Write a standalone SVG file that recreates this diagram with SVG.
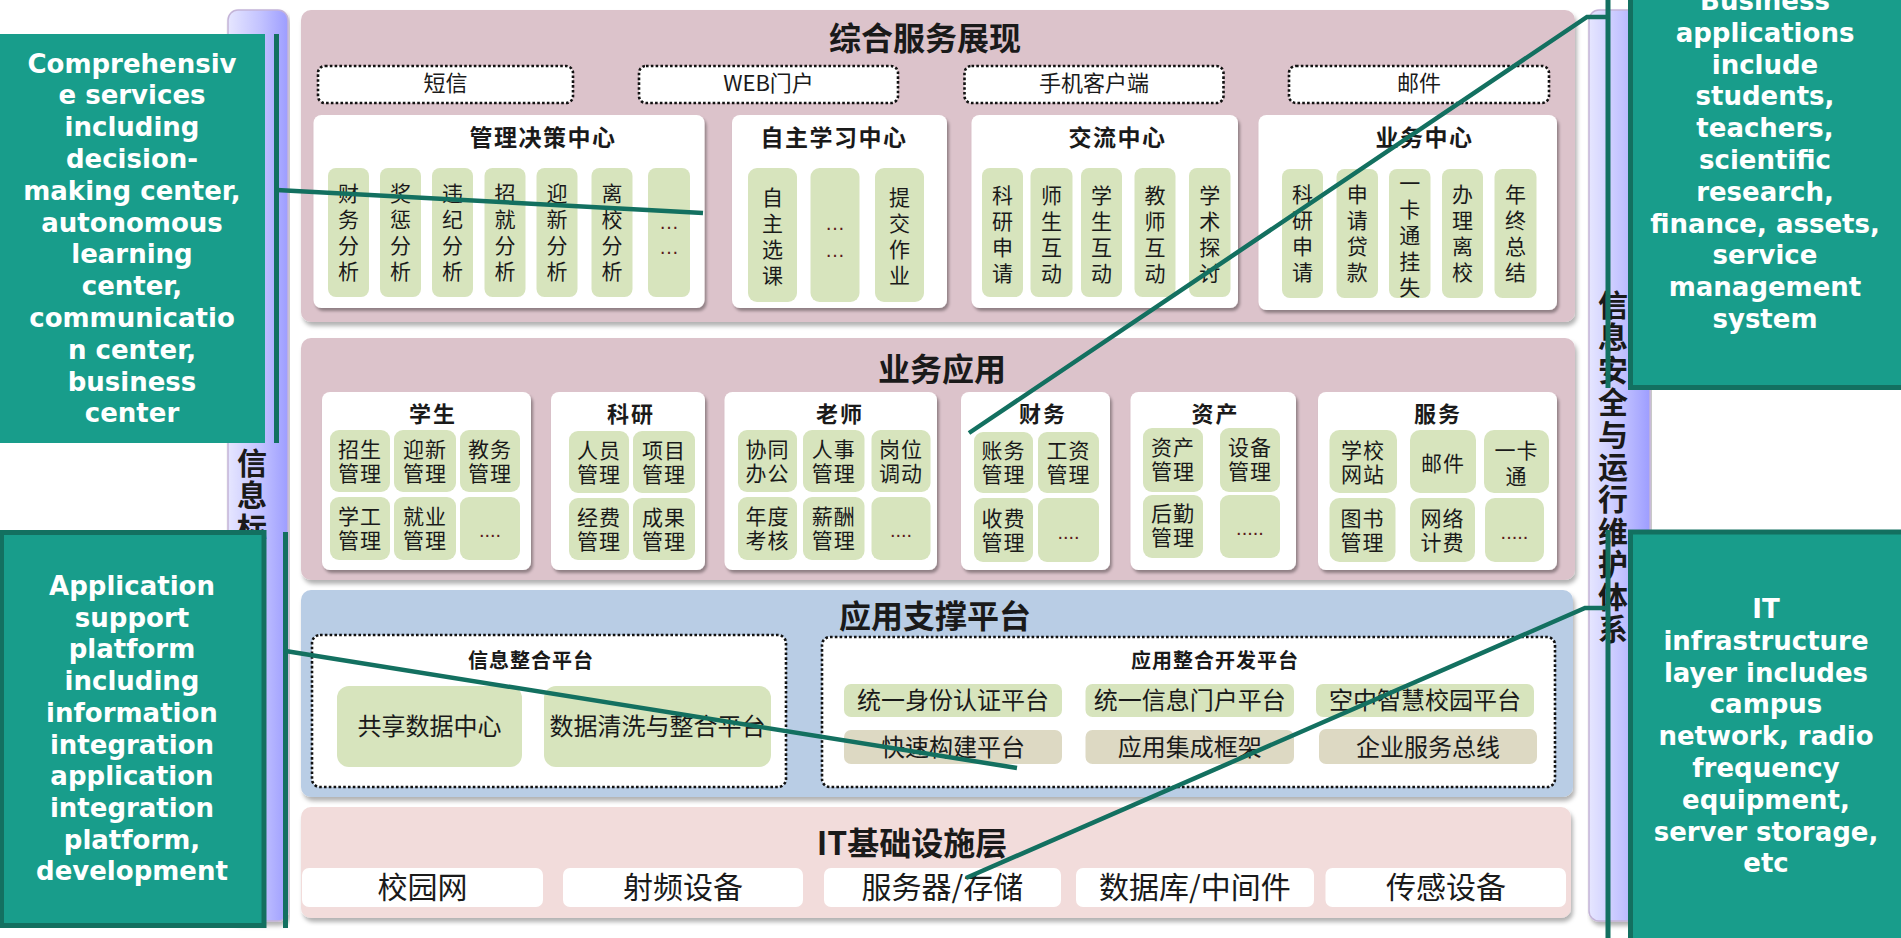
<svg xmlns="http://www.w3.org/2000/svg" width="1901" height="938" viewBox="0 0 1901 938">
<defs>
<style>
.cjk{font-family:"Noto Sans CJK SC","Noto Sans CJK JP",sans-serif;fill:#1a1a1a}
.h1{font-size:32px;font-weight:700;text-anchor:middle}
.h2{font-size:23px;font-weight:700;text-anchor:middle;letter-spacing:1.5px}
.h3{font-size:22px;font-weight:700;text-anchor:middle;letter-spacing:2px}
.h4{font-size:20px;font-weight:700;text-anchor:middle;letter-spacing:1px}
.vt{font-size:21px;text-anchor:middle}
.it{font-size:21px;text-anchor:middle;letter-spacing:1px}
.ch{font-size:22px;text-anchor:middle}
.sp{font-size:24px;text-anchor:middle}
.inf{font-size:30px;text-anchor:middle}
.bar{font-size:30px;font-weight:700;text-anchor:middle}
.dots{font-family:"Liberation Sans",sans-serif;font-size:20px;text-anchor:middle;fill:#5a1a1a}
.pink{fill:#dcc3cb}
.blue{fill:#b9cde5}
.itp{fill:#f2dcdb}
.card{fill:#ffffff}
.pill{fill:#d7e4bd}
.tan{fill:#ddd9c3}
.dotbox{fill:#ffffff;stroke:#111;stroke-width:2.6;stroke-dasharray:2.6 2.2}
.lav{fill:url(#lavg);stroke:#c4b4d8;stroke-width:1.5}
.cbox{fill:#189d8b}
.cbord{fill:#189d8b;stroke:#137060;stroke-width:5}
.ctext{font-family:"DejaVu Sans",Verdana,sans-serif;font-weight:700;font-size:26px;fill:#ffffff;text-anchor:middle}
.accent{stroke:#137060;stroke-width:5;fill:none}
.lead{stroke:#137060;stroke-width:4.5;fill:none}
</style>
<linearGradient id="lavg" x1="0" y1="0" x2="1" y2="0">
<stop offset="0" stop-color="#e6e6ff"/>
<stop offset="0.55" stop-color="#c2c2ff"/>
<stop offset="1" stop-color="#9d9dff"/>
</linearGradient>
<filter id="sh" x="-5%" y="-5%" width="112%" height="120%">
<feDropShadow dx="2" dy="3" stdDeviation="1.6" flood-color="#000" flood-opacity="0.35"/>
</filter>
<filter id="shp" x="-2%" y="-3%" width="104%" height="110%">
<feDropShadow dx="2" dy="4" stdDeviation="2" flood-color="#000" flood-opacity="0.3"/>
</filter>
</defs>
<rect width="1901" height="938" fill="#ffffff"/>

<g id="left-bar">
<rect class="lav" x="228" y="10" width="60" height="911" rx="10" filter="url(#shp)"/>
<text class="cjk bar" x="252" y="474"><tspan x="252" dy="0">信</tspan><tspan x="252" dy="32.4">息</tspan><tspan x="252" dy="32.4">标</tspan></text>
</g>
<g id="right-bar">
<rect class="lav" x="1589" y="10" width="61" height="911" rx="10" filter="url(#shp)"/>
<text class="cjk bar" x="1613" y="316"><tspan x="1613" dy="0">信</tspan><tspan x="1613" dy="32.4">息</tspan><tspan x="1613" dy="32.4">安</tspan><tspan x="1613" dy="32.4">全</tspan><tspan x="1613" dy="32.4">与</tspan><tspan x="1613" dy="32.4">运</tspan><tspan x="1613" dy="32.4">行</tspan><tspan x="1613" dy="32.4">维</tspan><tspan x="1613" dy="32.4">护</tspan><tspan x="1613" dy="32.4">体</tspan><tspan x="1613" dy="32.4">系</tspan></text>
</g>

<g id="layer-display">
<rect class="pink" x="301" y="10" width="1274" height="312" rx="10" filter="url(#shp)"/>
<text class="cjk h1" x="925" y="50">综合服务展现</text>
<g id="ch-sms"><rect class="dotbox" x="318" y="66" width="255" height="37" rx="7"/><text class="cjk ch" x="445.5" y="91">短信</text></g>
<g id="ch-web"><rect class="dotbox" x="639" y="66" width="259" height="37" rx="7"/><text class="cjk ch" x="768.5" y="91">WEB门户</text></g>
<g id="ch-mobile"><rect class="dotbox" x="964.5" y="66" width="259" height="37" rx="7"/><text class="cjk ch" x="1094" y="91">手机客户端</text></g>
<g id="ch-mail"><rect class="dotbox" x="1289" y="66" width="260" height="37" rx="7"/><text class="cjk ch" x="1419" y="91">邮件</text></g>

<g id="center-decision">
<rect class="card" x="313.5" y="115" width="391" height="193" rx="8" filter="url(#sh)"/>
<text class="cjk h2" x="543" y="146">管理决策中心</text>
<rect class="pill" x="328" y="168" width="41" height="129" rx="8"/>
<rect class="pill" x="380" y="168" width="41" height="129" rx="8"/>
<rect class="pill" x="432" y="168" width="41" height="129" rx="8"/>
<rect class="pill" x="484.5" y="168" width="41" height="129" rx="8"/>
<rect class="pill" x="536.5" y="168" width="41" height="129" rx="8"/>
<rect class="pill" x="591.5" y="168" width="41" height="129" rx="8"/>
<rect class="pill" x="648" y="168" width="42" height="129" rx="8"/>
<text class="cjk vt" x="348.5" y="201"><tspan x="348.5" dy="0">财</tspan><tspan x="348.5" dy="26">务</tspan><tspan x="348.5" dy="26">分</tspan><tspan x="348.5" dy="26">析</tspan></text>
<text class="cjk vt" x="400.5" y="201"><tspan x="400.5" dy="0">奖</tspan><tspan x="400.5" dy="26">惩</tspan><tspan x="400.5" dy="26">分</tspan><tspan x="400.5" dy="26">析</tspan></text>
<text class="cjk vt" x="452.5" y="201"><tspan x="452.5" dy="0">违</tspan><tspan x="452.5" dy="26">纪</tspan><tspan x="452.5" dy="26">分</tspan><tspan x="452.5" dy="26">析</tspan></text>
<text class="cjk vt" x="505" y="201"><tspan x="505" dy="0">招</tspan><tspan x="505" dy="26">就</tspan><tspan x="505" dy="26">分</tspan><tspan x="505" dy="26">析</tspan></text>
<text class="cjk vt" x="557" y="201"><tspan x="557" dy="0">迎</tspan><tspan x="557" dy="26">新</tspan><tspan x="557" dy="26">分</tspan><tspan x="557" dy="26">析</tspan></text>
<text class="cjk vt" x="612" y="201"><tspan x="612" dy="0">离</tspan><tspan x="612" dy="26">校</tspan><tspan x="612" dy="26">分</tspan><tspan x="612" dy="26">析</tspan></text>
<text class="dots" x="669" y="229"><tspan x="669" dy="0">…</tspan><tspan x="669" dy="25">…</tspan></text>
</g>

<g id="center-learning">
<rect class="card" x="732" y="115" width="215" height="193" rx="8" filter="url(#sh)"/>
<text class="cjk h2" x="834" y="146">自主学习中心</text>
<rect class="pill" x="748" y="168" width="49" height="134" rx="9"/>
<rect class="pill" x="810.5" y="168" width="49" height="134" rx="9"/>
<rect class="pill" x="875" y="168" width="49" height="134" rx="9"/>
<text class="cjk vt" x="772.5" y="205"><tspan x="772.5" dy="0">自</tspan><tspan x="772.5" dy="26">主</tspan><tspan x="772.5" dy="26">选</tspan><tspan x="772.5" dy="26">课</tspan></text>
<text class="dots" x="835" y="230"><tspan x="835" dy="0">…</tspan><tspan x="835" dy="27">…</tspan></text>
<text class="cjk vt" x="899.5" y="205"><tspan x="899.5" dy="0">提</tspan><tspan x="899.5" dy="26">交</tspan><tspan x="899.5" dy="26">作</tspan><tspan x="899.5" dy="26">业</tspan></text>
</g>

<g id="center-exchange">
<rect class="card" x="971.5" y="115" width="266.5" height="193" rx="8" filter="url(#sh)"/>
<text class="cjk h2" x="1117.5" y="146">交流中心</text>
<rect class="pill" x="982" y="168" width="41" height="129" rx="8"/>
<rect class="pill" x="1030.5" y="168" width="42" height="129" rx="8"/>
<rect class="pill" x="1081" y="168" width="41" height="129" rx="8"/>
<rect class="pill" x="1134.5" y="168" width="41" height="129" rx="8"/>
<rect class="pill" x="1189" y="168" width="41.5" height="129" rx="8"/>
<text class="cjk vt" x="1002.5" y="203"><tspan x="1002.5" dy="0">科</tspan><tspan x="1002.5" dy="26">研</tspan><tspan x="1002.5" dy="26">申</tspan><tspan x="1002.5" dy="26">请</tspan></text>
<text class="cjk vt" x="1051.5" y="203"><tspan x="1051.5" dy="0">师</tspan><tspan x="1051.5" dy="26">生</tspan><tspan x="1051.5" dy="26">互</tspan><tspan x="1051.5" dy="26">动</tspan></text>
<text class="cjk vt" x="1101.5" y="203"><tspan x="1101.5" dy="0">学</tspan><tspan x="1101.5" dy="26">生</tspan><tspan x="1101.5" dy="26">互</tspan><tspan x="1101.5" dy="26">动</tspan></text>
<text class="cjk vt" x="1155" y="203"><tspan x="1155" dy="0">教</tspan><tspan x="1155" dy="26">师</tspan><tspan x="1155" dy="26">互</tspan><tspan x="1155" dy="26">动</tspan></text>
<text class="cjk vt" x="1209.7" y="203"><tspan x="1209.7" dy="0">学</tspan><tspan x="1209.7" dy="26">术</tspan><tspan x="1209.7" dy="26">探</tspan><tspan x="1209.7" dy="26">讨</tspan></text>
</g>

<g id="center-business">
<rect class="card" x="1258.5" y="115" width="298.5" height="195" rx="8" filter="url(#sh)"/>
<text class="cjk h2" x="1424.6" y="146">业务中心</text>
<rect class="pill" x="1282" y="169" width="41" height="129" rx="8"/>
<rect class="pill" x="1336.5" y="169" width="41.5" height="129" rx="8"/>
<rect class="pill" x="1389" y="169" width="41.5" height="129" rx="8"/>
<rect class="pill" x="1442" y="169" width="41" height="129" rx="8"/>
<rect class="pill" x="1494.5" y="169" width="42" height="129" rx="8"/>
<text class="cjk vt" x="1302.5" y="202"><tspan x="1302.5" dy="0">科</tspan><tspan x="1302.5" dy="26">研</tspan><tspan x="1302.5" dy="26">申</tspan><tspan x="1302.5" dy="26">请</tspan></text>
<text class="cjk vt" x="1357.2" y="202"><tspan x="1357.2" dy="0">申</tspan><tspan x="1357.2" dy="26">请</tspan><tspan x="1357.2" dy="26">贷</tspan><tspan x="1357.2" dy="26">款</tspan></text>
<text class="cjk vt" x="1409.7" y="191"><tspan x="1409.7" dy="0">一</tspan><tspan x="1409.7" dy="26">卡</tspan><tspan x="1409.7" dy="26">通</tspan><tspan x="1409.7" dy="26">挂</tspan><tspan x="1409.7" dy="26">失</tspan></text>
<text class="cjk vt" x="1462.5" y="202"><tspan x="1462.5" dy="0">办</tspan><tspan x="1462.5" dy="26">理</tspan><tspan x="1462.5" dy="26">离</tspan><tspan x="1462.5" dy="26">校</tspan></text>
<text class="cjk vt" x="1515.5" y="202"><tspan x="1515.5" dy="0">年</tspan><tspan x="1515.5" dy="26">终</tspan><tspan x="1515.5" dy="26">总</tspan><tspan x="1515.5" dy="26">结</tspan></text>
</g>
</g>

<g id="layer-apps">
<rect class="pink" x="301" y="338" width="1274" height="242" rx="10" filter="url(#shp)"/>
<text class="cjk h1" x="942" y="381">业务应用</text>

<g id="grp-student">
<rect class="card" x="322" y="392" width="209" height="178" rx="8" filter="url(#sh)"/>
<text class="cjk h3" x="433" y="422">学生</text>
<rect class="pill" x="330" y="430" width="60" height="62" rx="9"/>
<rect class="pill" x="394" y="430" width="62" height="62" rx="9"/>
<rect class="pill" x="460" y="430" width="60" height="62" rx="9"/>
<rect class="pill" x="330" y="497" width="60" height="63" rx="9"/>
<rect class="pill" x="394" y="497" width="62" height="63" rx="9"/>
<rect class="pill" x="460" y="497" width="60" height="63" rx="9"/>
<text class="cjk it" x="360" y="457"><tspan x="360" dy="0">招生</tspan><tspan x="360" dy="24">管理</tspan></text>
<text class="cjk it" x="425" y="457"><tspan x="425" dy="0">迎新</tspan><tspan x="425" dy="24">管理</tspan></text>
<text class="cjk it" x="490" y="457"><tspan x="490" dy="0">教务</tspan><tspan x="490" dy="24">管理</tspan></text>
<text class="cjk it" x="360" y="524"><tspan x="360" dy="0">学工</tspan><tspan x="360" dy="24">管理</tspan></text>
<text class="cjk it" x="425" y="524"><tspan x="425" dy="0">就业</tspan><tspan x="425" dy="24">管理</tspan></text>
<text class="dots" x="490" y="537">....</text>
</g>

<g id="grp-research">
<rect class="card" x="551" y="392" width="154" height="178" rx="8" filter="url(#sh)"/>
<text class="cjk h3" x="631" y="422">科研</text>
<rect class="pill" x="569" y="431" width="60" height="62" rx="9"/>
<rect class="pill" x="633" y="431" width="62" height="62" rx="9"/>
<rect class="pill" x="569" y="498" width="60" height="62" rx="9"/>
<rect class="pill" x="633" y="498" width="62" height="62" rx="9"/>
<text class="cjk it" x="599" y="458"><tspan x="599" dy="0">人员</tspan><tspan x="599" dy="24">管理</tspan></text>
<text class="cjk it" x="664" y="458"><tspan x="664" dy="0">项目</tspan><tspan x="664" dy="24">管理</tspan></text>
<text class="cjk it" x="599" y="525"><tspan x="599" dy="0">经费</tspan><tspan x="599" dy="24">管理</tspan></text>
<text class="cjk it" x="664" y="525"><tspan x="664" dy="0">成果</tspan><tspan x="664" dy="24">管理</tspan></text>
</g>

<g id="grp-teacher">
<rect class="card" x="724.5" y="392" width="212.5" height="178" rx="8" filter="url(#sh)"/>
<text class="cjk h3" x="840" y="422">老师</text>
<rect class="pill" x="738" y="430" width="59" height="62" rx="9"/>
<rect class="pill" x="803" y="430" width="61.5" height="62" rx="9"/>
<rect class="pill" x="871.5" y="430" width="59" height="62" rx="9"/>
<rect class="pill" x="738" y="497" width="59" height="63" rx="9"/>
<rect class="pill" x="803" y="497" width="61.5" height="63" rx="9"/>
<rect class="pill" x="871.5" y="497" width="59" height="63" rx="9"/>
<text class="cjk it" x="767.5" y="457"><tspan x="767.5" dy="0">协同</tspan><tspan x="767.5" dy="24">办公</tspan></text>
<text class="cjk it" x="833.7" y="457"><tspan x="833.7" dy="0">人事</tspan><tspan x="833.7" dy="24">管理</tspan></text>
<text class="cjk it" x="901" y="457"><tspan x="901" dy="0">岗位</tspan><tspan x="901" dy="24">调动</tspan></text>
<text class="cjk it" x="767.5" y="524"><tspan x="767.5" dy="0">年度</tspan><tspan x="767.5" dy="24">考核</tspan></text>
<text class="cjk it" x="833.7" y="524"><tspan x="833.7" dy="0">薪酬</tspan><tspan x="833.7" dy="24">管理</tspan></text>
<text class="dots" x="901" y="537">....</text>
</g>

<g id="grp-finance">
<rect class="card" x="961" y="392" width="149" height="178" rx="8" filter="url(#sh)"/>
<text class="cjk h3" x="1043" y="422">财务</text>
<rect class="pill" x="974" y="432" width="59" height="61" rx="9"/>
<rect class="pill" x="1038" y="432" width="61" height="61" rx="9"/>
<rect class="pill" x="974" y="498" width="59" height="64" rx="9"/>
<rect class="pill" x="1038" y="498" width="61" height="64" rx="9"/>
<text class="cjk it" x="1003.5" y="458"><tspan x="1003.5" dy="0">账务</tspan><tspan x="1003.5" dy="24">管理</tspan></text>
<text class="cjk it" x="1068.5" y="458"><tspan x="1068.5" dy="0">工资</tspan><tspan x="1068.5" dy="24">管理</tspan></text>
<text class="cjk it" x="1003.5" y="526"><tspan x="1003.5" dy="0">收费</tspan><tspan x="1003.5" dy="24">管理</tspan></text>
<text class="dots" x="1068.5" y="539">....</text>
</g>

<g id="grp-assets">
<rect class="card" x="1130.5" y="392" width="165.5" height="178" rx="8" filter="url(#sh)"/>
<text class="cjk h3" x="1215.5" y="422">资产</text>
<rect class="pill" x="1143" y="428" width="60" height="64" rx="9"/>
<rect class="pill" x="1220" y="428" width="60" height="64" rx="9"/>
<rect class="pill" x="1143" y="495" width="60" height="63" rx="9"/>
<rect class="pill" x="1220" y="495" width="60" height="63" rx="9"/>
<text class="cjk it" x="1173" y="455"><tspan x="1173" dy="0">资产</tspan><tspan x="1173" dy="24">管理</tspan></text>
<text class="cjk it" x="1250" y="455"><tspan x="1250" dy="0">设备</tspan><tspan x="1250" dy="24">管理</tspan></text>
<text class="cjk it" x="1173" y="521"><tspan x="1173" dy="0">后勤</tspan><tspan x="1173" dy="24">管理</tspan></text>
<text class="dots" x="1250" y="535">.....</text>
</g>

<g id="grp-service">
<rect class="card" x="1318" y="392" width="239" height="178" rx="8" filter="url(#sh)"/>
<text class="cjk h3" x="1438" y="422">服务</text>
<rect class="pill" x="1329.5" y="430" width="67.5" height="63" rx="10"/>
<rect class="pill" x="1410" y="430" width="66" height="63" rx="10"/>
<rect class="pill" x="1484" y="430" width="65" height="63" rx="10"/>
<rect class="pill" x="1329.5" y="498" width="66" height="64" rx="10"/>
<rect class="pill" x="1410" y="498" width="65" height="64" rx="10"/>
<rect class="pill" x="1485" y="498" width="59" height="64" rx="10"/>
<text class="cjk it" x="1363" y="458"><tspan x="1363" dy="0">学校</tspan><tspan x="1363" dy="24">网站</tspan></text>
<text class="cjk it" x="1443" y="471">邮件</text>
<text class="cjk it" x="1516.5" y="458"><tspan x="1516.5" dy="0">一卡</tspan><tspan x="1516.5" dy="26">通</tspan></text>
<text class="cjk it" x="1362.5" y="526"><tspan x="1362.5" dy="0">图书</tspan><tspan x="1362.5" dy="24">管理</tspan></text>
<text class="cjk it" x="1442.5" y="526"><tspan x="1442.5" dy="0">网络</tspan><tspan x="1442.5" dy="24">计费</tspan></text>
<text class="dots" x="1514.5" y="539">.....</text>
</g>
</g>

<g id="layer-support">
<rect class="blue" x="301" y="590" width="1272" height="207" rx="10" filter="url(#shp)"/>
<text class="cjk h1" x="935" y="628">应用支撑平台</text>
<g id="info-integration">
<rect class="dotbox" x="312" y="635" width="474" height="152" rx="8"/>
<text class="cjk h4" x="531" y="668">信息整合平台</text>
<rect class="pill" x="337" y="686" width="185" height="81" rx="12"/>
<rect class="pill" x="544" y="686" width="227" height="81" rx="12"/>
<text class="cjk sp" x="429.5" y="735">共享数据中心</text>
<text class="cjk sp" x="657.5" y="735">数据清洗与整合平台</text>
</g>
<g id="app-integration">
<rect class="dotbox" x="822" y="637" width="733" height="150" rx="8"/>
<text class="cjk h4" x="1215" y="668">应用整合开发平台</text>
<rect class="pill" x="844" y="684" width="218" height="33" rx="7"/>
<rect class="pill" x="1085.5" y="684" width="208.5" height="33" rx="7"/>
<rect class="pill" x="1316" y="684" width="218" height="33" rx="7"/>
<rect class="tan" x="844" y="730" width="218" height="34" rx="7"/>
<rect class="tan" x="1085.5" y="730" width="208.5" height="34" rx="7"/>
<rect class="tan" x="1319" y="729" width="218" height="35" rx="7"/>
<text class="cjk sp" x="953" y="709">统一身份认证平台</text>
<text class="cjk sp" x="1189.7" y="709">统一信息门户平台</text>
<text class="cjk sp" x="1425" y="709">空中智慧校园平台</text>
<text class="cjk sp" x="953" y="756">快速构建平台</text>
<text class="cjk sp" x="1189.7" y="756">应用集成框架</text>
<text class="cjk sp" x="1428" y="756">企业服务总线</text>
</g>
</g>

<g id="layer-infra">
<rect class="itp" x="301" y="807" width="1270" height="111" rx="10" filter="url(#shp)"/>
<text class="cjk h1" x="912" y="855">IT基础设施层</text>
<g id="infra-campus"><rect class="card" x="302" y="868" width="241" height="39" rx="7"/><text class="cjk inf" x="422.5" y="898">校园网</text></g>
<g id="infra-rf"><rect class="card" x="563" y="868" width="240" height="39" rx="7"/><text class="cjk inf" x="683" y="898">射频设备</text></g>
<g id="infra-server"><rect class="card" x="824" y="868" width="237" height="39" rx="7"/><text class="cjk inf" x="942.5" y="898">服务器/存储</text></g>
<g id="infra-db"><rect class="card" x="1076" y="868" width="238" height="39" rx="7"/><text class="cjk inf" x="1195" y="898">数据库/中间件</text></g>
<g id="infra-sensor"><rect class="card" x="1325.5" y="868" width="240.5" height="39" rx="7"/><text class="cjk inf" x="1446" y="898">传感设备</text></g>
</g>

<g id="callout-display">
<rect class="cbox" x="0" y="34" width="265" height="409"/>
<line class="accent" x1="276.5" y1="34" x2="276.5" y2="443"/>
<text class="ctext" x="132" y="72.5"><tspan x="132" dy="0">Comprehensiv</tspan><tspan x="132" dy="31.8">e services</tspan><tspan x="132" dy="31.8">including</tspan><tspan x="132" dy="31.8">decision-</tspan><tspan x="132" dy="31.8">making center,</tspan><tspan x="132" dy="31.8">autonomous</tspan><tspan x="132" dy="31.8">learning</tspan><tspan x="132" dy="31.8">center,</tspan><tspan x="132" dy="31.8">communicatio</tspan><tspan x="132" dy="31.8">n center,</tspan><tspan x="132" dy="31.8">business</tspan><tspan x="132" dy="31.8">center</tspan></text>
</g>
<g id="callout-apps">
<rect class="cbord" x="1630.5" y="-20" width="285" height="407.5"/>
<line class="accent" x1="1608" y1="-5" x2="1608" y2="388"/>
<text class="ctext" x="1765" y="10"><tspan x="1765" dy="0">Business</tspan><tspan x="1765" dy="31.8">applications</tspan><tspan x="1765" dy="31.8">include</tspan><tspan x="1765" dy="31.8">students,</tspan><tspan x="1765" dy="31.8">teachers,</tspan><tspan x="1765" dy="31.8">scientific</tspan><tspan x="1765" dy="31.8">research,</tspan><tspan x="1765" dy="31.8">finance, assets,</tspan><tspan x="1765" dy="31.8">service</tspan><tspan x="1765" dy="31.8">management</tspan><tspan x="1765" dy="31.8">system</tspan></text>
</g>
<g id="callout-support">
<rect class="cbord" x="1.5" y="532.5" width="262.5" height="393"/>
<line class="accent" x1="285.5" y1="532" x2="285.5" y2="928"/>
<text class="ctext" x="132" y="595"><tspan x="132" dy="0">Application</tspan><tspan x="132" dy="31.7">support</tspan><tspan x="132" dy="31.7">platform</tspan><tspan x="132" dy="31.7">including</tspan><tspan x="132" dy="31.7">information</tspan><tspan x="132" dy="31.7">integration</tspan><tspan x="132" dy="31.7">application</tspan><tspan x="132" dy="31.7">integration</tspan><tspan x="132" dy="31.7">platform,</tspan><tspan x="132" dy="31.7">development</tspan></text>
</g>
<g id="callout-infra">
<rect class="cbord" x="1630.5" y="532" width="285" height="420"/>
<line class="accent" x1="1608" y1="530" x2="1608" y2="945"/>
<text class="ctext" x="1766" y="618"><tspan x="1766" dy="0">IT</tspan><tspan x="1766" dy="31.8">infrastructure</tspan><tspan x="1766" dy="31.8">layer includes</tspan><tspan x="1766" dy="31.8">campus</tspan><tspan x="1766" dy="31.8">network, radio</tspan><tspan x="1766" dy="31.8">frequency</tspan><tspan x="1766" dy="31.8">equipment,</tspan><tspan x="1766" dy="31.8">server storage,</tspan><tspan x="1766" dy="31.8">etc</tspan></text>
</g>

<g id="connectors">
<polyline class="lead" points="276.5,190 703,213"/>
<polyline class="lead" points="1608,17 1587,17 969,433"/>
<polyline class="lead" points="285.5,651 1017,768"/>
<polyline class="lead" points="1608,608 1585,608 966,878"/>
</g>
</svg>
